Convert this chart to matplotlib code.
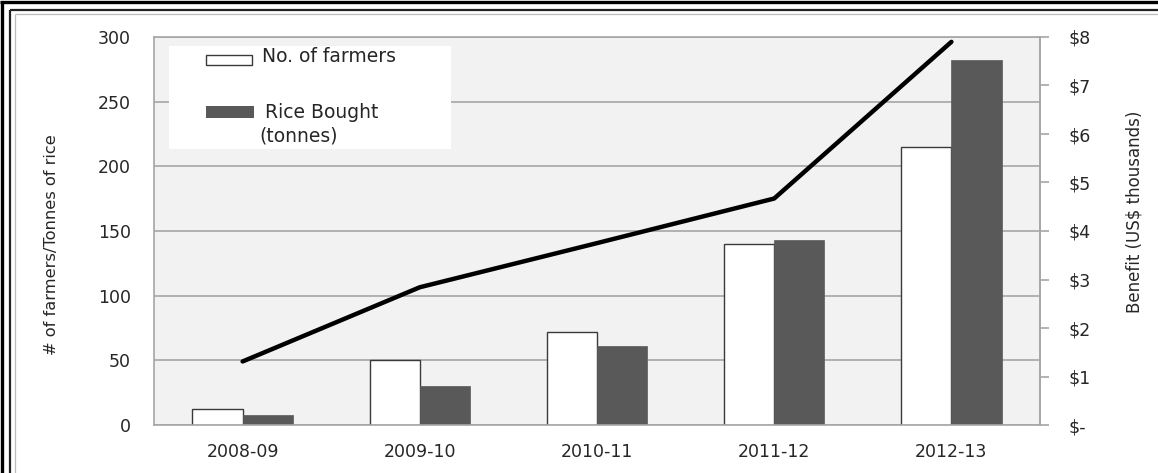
import numpy as np
import matplotlib
matplotlib.use("Agg")
import matplotlib.pyplot as plt
from matplotlib.patches import Rectangle
from matplotlib.lines import Line2D
from matplotlib.ticker import FuncFormatter

# data
years = ["2008-09", "2009-10", "2010-11", "2011-12", "2012-13"]
farmers = [12, 50, 72, 140, 215]
rice = [7.5, 30, 61, 143, 282]
benefit = [1.31, 2.84, 3.75, 4.67, 7.9]

plt.rcParams['font.family'] = ['DejaVu Sans']
txt = '#262626'
grid_c = '#a6a6a6'

W, H = 1158, 473
fig = plt.figure(figsize=(W / 100, H / 100), dpi=100, facecolor='white')
ax = fig.add_axes([154 / W, 1 - 425 / H, 886 / W, 388 / H])
ax.set_facecolor('#f2f2f2')

x = np.arange(len(years))
bw = 0.283
ax.bar(x - bw / 2, farmers, bw, color='white', edgecolor='#3a3a3a', linewidth=1.0, zorder=2)
ax.bar(x + bw / 2, rice, bw, color='#595959', edgecolor='#595959', linewidth=0.5, zorder=2)

ax.set_xlim(-0.5, len(years) - 0.5)
ax.set_ylim(0, 300)
ax.set_yticks(range(0, 301, 50))
ax.set_xticks(x)
ax.set_xticklabels(years)
ax.set_axisbelow(True)
ax.yaxis.grid(True, color=grid_c, linewidth=1.2)
ax.tick_params(axis='y', length=0, pad=16.5, labelsize=12.5, labelcolor=txt)
ax.tick_params(axis='x', length=0, pad=13, labelsize=12.5, labelcolor=txt)
for s in ax.spines.values():
    s.set_color(grid_c)
    s.set_linewidth(1.2)

# right axis with benefit line
ax2 = ax.twinx()
ax2.plot(x, benefit, color='black', linewidth=3.2, solid_capstyle='round',
         solid_joinstyle='round', zorder=5)
ax2.set_ylim(0, 8)
ax2.set_yticks(range(0, 9))
ax2.yaxis.set_major_formatter(FuncFormatter(lambda v, p: '$-' if v == 0 else '$%d' % v))
ax2.tick_params(axis='y', direction='out', length=6.5, width=1.2, color=grid_c,
                pad=14, labelsize=12.5, labelcolor=txt)
for s in ax2.spines.values():
    s.set_visible(False)
ax2.spines['right'].set_visible(True)
ax2.spines['right'].set_color(grid_c)
ax2.spines['right'].set_linewidth(1.2)

# legend drawn in axes coordinates
ax.add_patch(Rectangle((0.0169, 0.7113), 0.3183, 0.2655, transform=ax.transAxes,
                       facecolor='white', edgecolor='none', zorder=1))
ax.add_patch(Rectangle((0.0587, 0.9278), 0.0519, 0.0258, transform=ax.transAxes,
                       facecolor='white', edgecolor='#3a3a3a', linewidth=1.0, zorder=3))
ax.add_patch(Rectangle((0.0587, 0.7912), 0.0542, 0.031, transform=ax.transAxes,
                       facecolor='#595959', edgecolor='none', zorder=3))
ax.text(0.1219, 0.9485, "No. of farmers", transform=ax.transAxes, ha='left', va='center',
        fontsize=13.5, color=txt, zorder=4)
ax.text(0.1253, 0.8067, "Rice Bought", transform=ax.transAxes, ha='left', va='center',
        fontsize=13.5, color=txt, zorder=4)
ax.text(0.1185, 0.7448, "(tonnes)", transform=ax.transAxes, ha='left', va='center',
        fontsize=13.5, color=txt, zorder=4)

# axis titles
fig.text(52 / W, 1 - 245 / H, "# of farmers/Tonnes of rice", rotation=90,
         ha='center', va='center', fontsize=11.7, color=txt)
fig.text(1135 / W, 1 - 212 / H, "Benefit (US$ thousands)", rotation=90,
         ha='center', va='center', fontsize=12, color=txt)

# double border (top and left sides are visible in the crop)
def px_line(xs, ys, lw, c):
    fig.add_artist(Line2D([v / W for v in xs], [1 - v / H for v in ys],
                          transform=fig.transFigure, color=c, linewidth=lw,
                          solid_capstyle='butt'))

px_line([1.5, 1.5], [1.5, H], 2.4, 'black')
px_line([0, W], [2, 2], 2.4, 'black')
px_line([10, 10], [10, H], 1.6, '#222222')
px_line([10, W], [10, 10], 1.6, '#222222')
px_line([15, 15], [14, H], 0.9, '#bbbbbb')
px_line([15, W], [14, 14], 0.9, '#bbbbbb')

fig.savefig("out.png", dpi=100, facecolor='white')
